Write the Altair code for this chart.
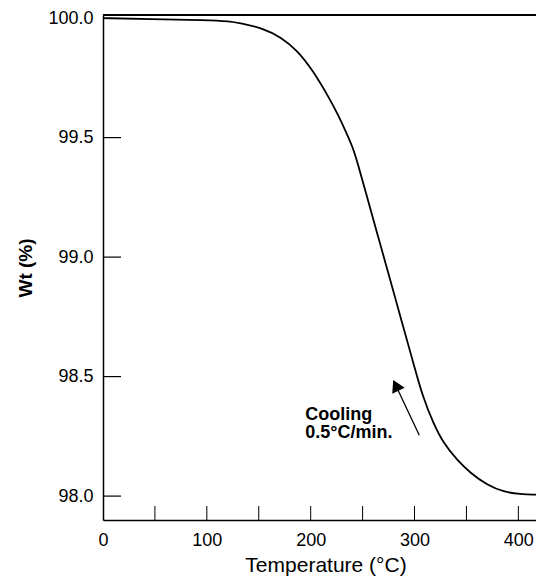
import altair as alt
import pandas as pd

# curve (Temperature in C, weight %)
temp = [0, 45, 100, 122, 132, 154, 171, 187, 202, 219, 226.5, 233.3, 240.5, 244.4,
        255.2, 265.9, 276.6, 287.4, 298.1, 308.0, 318.1, 327.7, 341, 354, 370, 386, 402, 417]
wt = [100.0, 99.996, 99.992, 99.987, 99.979, 99.958, 99.921, 99.866, 99.782, 99.657,
      99.594, 99.531, 99.460, 99.406, 99.238, 99.071, 98.904, 98.736, 98.569, 98.414,
      98.305, 98.222, 98.151, 98.096, 98.046, 98.017, 98.008, 98.006]

x_labels = [0, 100, 200, 300, 400]
x_ticks = [50, 100, 150, 200, 250, 300, 350, 400]
y_labels = [98.0, 98.5, 99.0, 99.5, 100.0]
y_ticks = [98.0, 98.5, 99.0, 99.5]

note_text = "Cooling\n0.5°C/min."
note_pos = [194.7, 98.318]
arrow_tail = [304.6, 98.255]
arrow_head = [282.0, 98.463]

W, H = 433, 505
XMAX = 417
YMIN, YMAX = 97.9, 100.013
FONT = "Liberation Sans"

xs = alt.Scale(domain=[0, XMAX], nice=False, zero=False)
ys = alt.Scale(domain=[YMIN, YMAX], nice=False, zero=False)

df = pd.DataFrame({"T": temp, "W": wt})

x_axis = alt.Axis(values=x_labels, ticks=False, grid=False, title="Temperature (°C)",
                  labelFontSize=18, titleFontSize=21, titleFontWeight="normal",
                  labelPadding=11, titlePadding=5, domainColor="black", domainWidth=1.5,
                  labelColor="black", titleColor="black", labelFlush=False, labelFont=FONT,
                  titleFont=FONT, titleX=W / 2 + 6)
y_axis = alt.Axis(values=y_labels, format=".1f", ticks=False, grid=False, title="Wt (%)",
                  labelFontSize=18, titleFontSize=19, titleFontWeight="bold",
                  labelPadding=10, titlePadding=12, domainColor="black", domainWidth=1.5,
                  labelColor="black", titleColor="black", labelFlush=False, labelFont=FONT,
                  titleFont=FONT)

curve = alt.Chart(df).mark_line(color="black", strokeWidth=1.8, interpolate="basis",
                                clip=True).encode(
    x=alt.X("T:Q", scale=xs, axis=x_axis),
    y=alt.Y("W:Q", scale=ys, axis=y_axis),
)

top_line = alt.Chart(pd.DataFrame({"W": [YMAX]})).mark_rule(color="black", strokeWidth=2).encode(
    y=alt.Y("W:Q", scale=ys),
    x=alt.value(0),
    x2=alt.value(W),
)

xt = alt.Chart(pd.DataFrame({"T": x_ticks})).mark_rule(color="black", strokeWidth=1).encode(
    x=alt.X("T:Q", scale=xs),
    y=alt.value(H),
    y2=alt.value(H - 14),
)

yt = alt.Chart(pd.DataFrame({"W": y_ticks})).mark_rule(color="black", strokeWidth=1.2).encode(
    y=alt.Y("W:Q", scale=ys),
    x=alt.value(0),
    x2=alt.value(18),
)

note = alt.Chart(pd.DataFrame({"T": [note_pos[0]], "W": [note_pos[1]], "txt": [note_text]})).mark_text(
    align="left", baseline="alphabetic", fontSize=18, fontWeight="bold", font=FONT,
    lineBreak="\n", lineHeight=18, color="black",
).encode(x=alt.X("T:Q", scale=xs), y=alt.Y("W:Q", scale=ys), text="txt:N")

arrow = alt.Chart(pd.DataFrame({"T": [arrow_tail[0]], "W": [arrow_tail[1]],
                                "T2": [arrow_head[0]], "W2": [arrow_head[1]]})).mark_rule(
    color="black", strokeWidth=1.3).encode(
    x=alt.X("T:Q", scale=xs), y=alt.Y("W:Q", scale=ys), x2="T2:Q", y2="W2:Q")

head = alt.Chart(pd.DataFrame({"T": [arrow_head[0]], "W": [arrow_head[1]]})).mark_point(
    shape="triangle-up", filled=True, size=190, angle=334, color="black", opacity=1,
).encode(x=alt.X("T:Q", scale=xs), y=alt.Y("W:Q", scale=ys))

chart = alt.layer(curve, top_line, xt, yt, arrow, head, note).properties(
    width=W, height=H, autosize="none",
    padding={"left": 95, "top": 7, "right": 0, "bottom": 56},
).configure_view(stroke=None).configure(font=FONT, background="white")

chart.save("out.html", embed_options={"renderer": "svg", "actions": False})
